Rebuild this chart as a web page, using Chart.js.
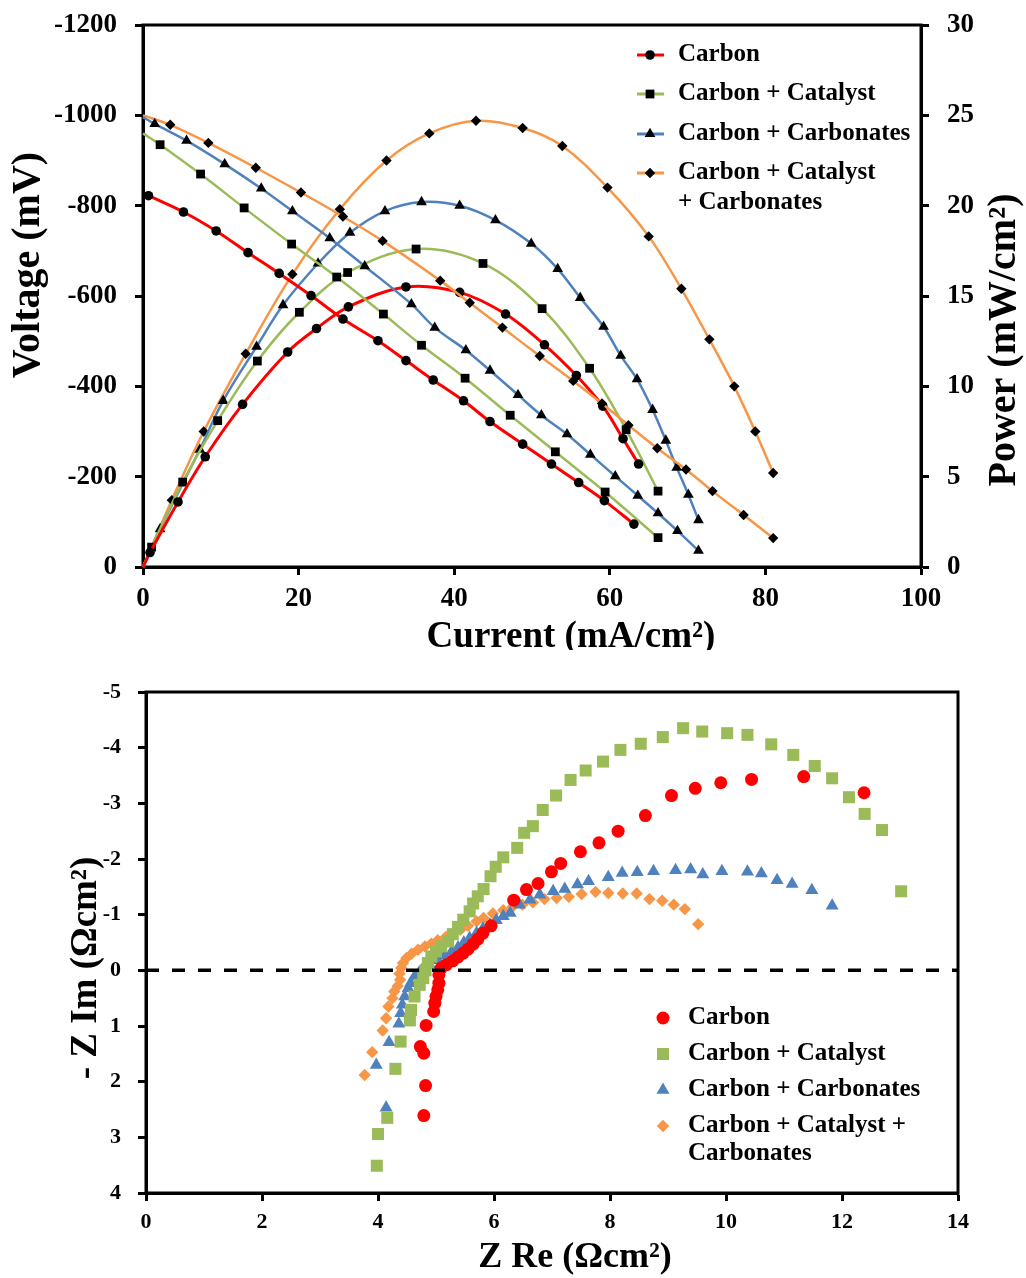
<!DOCTYPE html>
<html>
<head>
<meta charset="utf-8">
<script src="https://cdn.jsdelivr.net/npm/chart.js@4.4.1/dist/chart.umd.min.js"></script>
<style>
  body { margin: 0; background: #fff; }
  #wrap { position: relative; width: 1026px; height: 1278px; }
  canvas { position: absolute; left: 0; }
  #polChart { top: 0; }
  #eisChart { top: 660px; }
</style>
</head>
<body>
<div id="wrap">
  <canvas id="polChart" width="1026" height="650"></canvas>
  <canvas id="eisChart" width="1026" height="618"></canvas>
</div>
<script>
// --- polarization data: current (mA/cm2), voltage (mV), power (mW/cm2) ---
const carbonCurV = [0.7, 5.2, 9.4, 13.5, 17.5, 21.6, 25.7, 30.2, 33.8, 37.3, 41.2, 44.6, 48.8, 52.5, 56.0, 59.3, 63.1];
const carbonVolt = [-822, -786, -744, -696, -650, -601, -549, -501, -457, -414, -368, -322, -272, -228, -187, -147, -95];
const carbonCurP = [0, 0.9, 4.5, 8.0, 12.8, 18.6, 22.3, 26.4, 33.8, 40.7, 46.6, 51.6, 55.7, 59.1, 61.7, 63.7];
const carbonPow  = [0, 0.8, 3.6, 6.1, 9.0, 11.9, 13.2, 14.4, 15.5, 15.2, 14.0, 12.3, 10.6, 8.9, 7.1, 5.7];

const catCurV = [0, 2.2, 7.4, 13.0, 19.1, 24.9, 30.9, 35.8, 41.4, 47.2, 53.0, 59.4, 66.2];
const catVolt = [-960, -935, -870, -795, -715, -642, -560, -491, -418, -336, -255, -166, -65];
const catCurP = [0, 1.1, 5.1, 9.6, 14.7, 20.1, 26.3, 35.1, 43.7, 51.3, 57.4, 62.1, 66.2];
const catPow  = [0, 1.1, 4.7, 8.1, 11.4, 14.1, 16.3, 17.6, 16.8, 14.3, 11.0, 7.6, 4.2];

const carbCurV = [0, 1.5, 5.6, 10.5, 15.2, 19.2, 24.0, 28.5, 34.5, 37.5, 41.5, 44.6, 48.2, 51.2, 54.5, 57.5, 60.7, 63.6, 66.2, 68.7, 71.4];
const carbVolt = [-996, -981, -944, -892, -838, -788, -728, -666, -582, -530, -480, -435, -381, -336, -294, -249, -201, -158, -119, -80, -36];
const carbCurP = [0, 2.2, 7.3, 10.3, 14.6, 18.0, 22.5, 26.6, 31.1, 35.8, 40.7, 45.3, 49.9, 53.3, 56.2, 59.2, 61.4, 63.5, 65.5, 67.2, 68.6, 70.1, 71.4];
const carbPow  = [0, 2.1, 6.5, 9.2, 12.2, 14.5, 16.8, 18.5, 19.7, 20.2, 20.0, 19.2, 17.9, 16.5, 14.9, 13.3, 11.7, 10.4, 8.7, 7.0, 5.5, 4.0, 2.6];

const mixCurV = [0, 3.5, 8.4, 14.5, 20.3, 25.7, 30.8, 38.2, 42.0, 46.2, 51.0, 55.3, 59.0, 62.4, 66.1, 69.8, 73.2, 77.2, 81.0];
const mixVolt = [-1000, -979, -939, -884, -829, -776, -722, -634, -585, -530, -467, -412, -362, -314, -263, -216, -168, -115, -64];
const mixCurP = [0, 3.7, 7.8, 13.2, 19.2, 25.3, 31.3, 36.8, 42.8, 48.8, 53.9, 59.7, 65.0, 69.2, 72.8, 76.0, 78.7, 81.0];
const mixPow  = [0, 3.7, 7.5, 11.8, 16.2, 19.8, 22.5, 24.0, 24.7, 24.3, 23.3, 21.0, 18.3, 15.4, 12.6, 10.0, 7.5, 5.2];

// --- impedance data: Z Re, Z Im (ohm cm2) ---
const carbonZre = [4.79, 4.82, 4.79, 4.73, 4.83, 4.96, 4.98, 5.0, 5.03, 5.05, 5.05, 5.09, 5.18, 5.29, 5.38, 5.47, 5.55, 5.64, 5.72, 5.81, 5.95, 6.34, 6.56, 6.76, 6.99, 7.15, 7.49, 7.81, 8.14, 8.61, 9.06, 9.47, 9.91, 10.44, 11.34, 12.38];
const carbonZim = [2.61, 2.07, 1.49, 1.37, 0.99, 0.74, 0.59, 0.47, 0.35, 0.23, 0.08, -0.04, -0.1, -0.17, -0.24, -0.31, -0.38, -0.47, -0.56, -0.67, -0.8, -1.26, -1.45, -1.56, -1.77, -1.92, -2.13, -2.29, -2.5, -2.78, -3.14, -3.27, -3.37, -3.43, -3.48, -3.19];

const catZre = [3.98, 4.0, 4.16, 4.30, 4.39, 4.55, 4.57, 4.63, 4.72, 4.78, 4.82, 4.86, 4.92, 5.0, 5.09, 5.21, 5.29, 5.38, 5.47, 5.58, 5.64, 5.72, 5.82, 5.94, 6.03, 6.16, 6.40, 6.52, 6.67, 6.84, 7.07, 7.32, 7.58, 7.88, 8.18, 8.53, 8.91, 9.26, 9.59, 10.02, 10.37, 10.78, 11.16, 11.53, 11.83, 12.12, 12.39, 12.69, 13.02];
const catZim = [3.51, 2.94, 2.65, 1.77, 1.28, 0.9, 0.71, 0.47, 0.26, 0.14, 0.0, -0.13, -0.25, -0.34, -0.43, -0.52, -0.65, -0.78, -0.91, -1.06, -1.2, -1.33, -1.46, -1.69, -1.86, -2.03, -2.2, -2.47, -2.59, -2.88, -3.14, -3.42, -3.59, -3.75, -3.96, -4.07, -4.19, -4.35, -4.29, -4.26, -4.23, -4.06, -3.87, -3.67, -3.45, -3.11, -2.81, -2.52, -1.42];

const carbZre = [4.14, 3.97, 4.19, 4.36, 4.39, 4.42, 4.46, 4.52, 4.56, 4.63, 4.71, 4.78, 4.89, 5.03, 5.15, 5.27, 5.38, 5.48, 5.58, 5.7, 5.81, 5.93, 6.04, 6.16, 6.28, 6.44, 6.62, 6.79, 7.02, 7.22, 7.44, 7.63, 7.97, 8.21, 8.47, 8.75, 9.13, 9.39, 9.6, 9.93, 10.37, 10.61, 10.88, 11.14, 11.48, 11.83];
const carbZim = [2.47, 1.7, 1.29, 0.96, 0.77, 0.62, 0.47, 0.32, 0.23, 0.11, 0.04, -0.04, -0.1, -0.18, -0.26, -0.34, -0.41, -0.5, -0.58, -0.67, -0.75, -0.82, -0.9, -0.97, -1.03, -1.18, -1.27, -1.36, -1.42, -1.46, -1.54, -1.6, -1.67, -1.75, -1.76, -1.78, -1.8, -1.81, -1.72, -1.78, -1.77, -1.74, -1.62, -1.55, -1.44, -1.16];

const mixZre = [3.77, 3.9, 4.08, 4.14, 4.18, 4.25, 4.28, 4.34, 4.38, 4.37, 4.4, 4.43, 4.49, 4.58, 4.69, 4.81, 4.92, 5.03, 5.17, 5.29, 5.42, 5.55, 5.7, 5.82, 5.98, 6.16, 6.32, 6.49, 6.67, 6.87, 7.08, 7.29, 7.51, 7.75, 7.97, 8.22, 8.46, 8.68, 8.9, 9.1, 9.29, 9.52];
const mixZim = [1.88, 1.47, 1.08, 0.86, 0.65, 0.5, 0.38, 0.28, 0.17, 0.06, -0.04, -0.13, -0.22, -0.3, -0.37, -0.43, -0.48, -0.54, -0.6, -0.67, -0.73, -0.8, -0.88, -0.94, -1.02, -1.08, -1.14, -1.18, -1.22, -1.28, -1.3, -1.32, -1.37, -1.41, -1.39, -1.38, -1.38, -1.28, -1.25, -1.18, -1.1, -0.83];

const topNames = ['Carbon', 'Carbon + Catalyst', 'Carbon + Carbonates', 'Carbon + Catalyst\n+ Carbonates'];
const eisNames = ['Carbon', 'Carbon + Catalyst', 'Carbon + Carbonates', 'Carbon + Catalyst +\nCarbonates'];
const colors = ['#ff0000', '#9bbb59', '#4f81bd', '#f79646'];
const shapes = ['circle', 'rect', 'triangle', 'rectRot'];

const FONT = '"Liberation Serif", "Times New Roman", serif';
const pts = (xs, ys) => xs.map((x, i) => ({ x: x, y: ys[i] }));

function drawMarker(ctx, style, x, y, r, color) {
    ctx.fillStyle = color;
    ctx.beginPath();
    if (style === 'circle') {
        ctx.arc(x, y, r, 0, Math.PI * 2);
    } else if (style === 'rect') {
        const s = r * Math.SQRT1_2;
        ctx.rect(x - s, y - s, 2 * s, 2 * s);
    } else if (style === 'triangle') {
        ctx.moveTo(x, y - r);
        ctx.lineTo(x + r * 0.866, y + r * 0.5);
        ctx.lineTo(x - r * 0.866, y + r * 0.5);
    } else {
        ctx.moveTo(x, y - r);
        ctx.lineTo(x + r, y);
        ctx.lineTo(x, y + r);
        ctx.lineTo(x - r, y);
    }
    ctx.closePath();
    ctx.fill();
}

// frame round the plot, axis titles and legend drawn by hand
const decor = {
    id: 'decor',
    beforeDatasetsDraw(chart) {
        const a = chart.chartArea, ctx = chart.ctx;
        ctx.save();
        ctx.strokeStyle = '#000';
        ctx.lineWidth = 3;
        ctx.strokeRect(a.left, a.top, a.right - a.left, a.bottom - a.top);
        ctx.restore();
    },
    afterDraw(chart, args, opts) {
        const ctx = chart.ctx;
        ctx.save();
        ctx.fillStyle = '#000';
        ctx.textAlign = 'center';
        ctx.textBaseline = 'middle';
        (opts.titles || []).forEach(t => {
            ctx.save();
            ctx.translate(t.x, t.y);
            ctx.rotate(t.rot || 0);
            ctx.font = t.font;
            ctx.fillText(t.text, 0, 0);
            ctx.restore();
        });
        const lg = opts.legend;
        if (lg) {
            ctx.font = lg.font;
            ctx.textAlign = 'left';
            chart.data.datasets.filter(d => d.legendRow !== undefined).forEach(d => {
                const y = lg.rows[d.legendRow];
                if (lg.lineFrom !== undefined) {
                    ctx.strokeStyle = d.borderColor;
                    ctx.lineWidth = 3;
                    ctx.beginPath();
                    ctx.moveTo(lg.lineFrom, y);
                    ctx.lineTo(lg.lineTo, y);
                    ctx.stroke();
                }
                drawMarker(ctx, d.pointStyle, lg.markerX, y, d.legendRadius, d.pointBackgroundColor);
                ctx.fillStyle = '#000';
                d.label.split('\n').forEach((line, i) => {
                    ctx.fillText(line, lg.textX, y + i * lg.lineGap);
                });
            });
        }
        ctx.restore();
    }
};

// keep the axis boxes at fixed sizes so the plot areas sit where the picture has them
const fixWidth = w => s => { s.width = w; s.paddingTop = 0; s.paddingBottom = 0; };
const fixHeight = h => s => { s.height = h; };

// ---------- top: polarization and power curves ----------
const topRadius = [4.8, 6.2, 6.2, 5.2];
const voltSets = [[carbonCurV, carbonVolt], [catCurV, catVolt], [carbCurV, carbVolt], [mixCurV, mixVolt]];
const powSets = [[carbonCurP, carbonPow], [catCurP, catPow], [carbCurP, carbPow], [mixCurP, mixPow]];

function curveSet(pair, i, axis, legend) {
    const r = topRadius[i];
    return {
        label: topNames[i],
        data: pts(pair[0], pair[1]),
        yAxisID: axis,
        borderColor: colors[i],
        borderWidth: i === 0 ? 3 : 2.5,
        tension: 0.35,
        pointStyle: shapes[i],
        pointBackgroundColor: '#000',
        pointBorderWidth: 0,
        pointRadius: ctx => (ctx.raw && ctx.raw.x === 0 ? 0 : r),
        legendRow: legend ? i : undefined,
        legendRadius: r,
        clip: false
    };
}

const topDatasets = [];
voltSets.forEach((p, i) => topDatasets.push(curveSet(p, i, 'y', true)));
powSets.forEach((p, i) => topDatasets.push(curveSet(p, i, 'y2', false)));

const tickFont = { family: FONT, size: 27, weight: 'bold' };
const axisLine = { display: true, drawOnChartArea: false, tickLength: 8, tickWidth: 3, tickColor: '#000' };

new Chart(document.getElementById('polChart'), {
    type: 'line',
    data: { datasets: topDatasets },
    options: {
        responsive: false,
        animation: false,
        events: [],
        layout: { padding: { top: 25, left: 0, right: 0, bottom: 0 } },
        plugins: {
            legend: { display: false },
            tooltip: { enabled: false },
            decor: {
                titles: [
                    { text: 'Voltage (mV)', x: 29, y: 265, rot: -Math.PI / 2, font: `bold 40px ${FONT}` },
                    { text: 'Power (mW/cm\u00b2)', x: 1005, y: 340, rot: -Math.PI / 2, font: `bold 40px ${FONT}` },
                    { text: 'Current (mA/cm\u00b2)', x: 571, y: 637, font: `bold 37px ${FONT}` }
                ],
                legend: { font: `bold 25px ${FONT}`, rows: [55, 94, 134, 173], lineGap: 30, lineFrom: 637, lineTo: 664, markerX: 650, textX: 678 }
            }
        },
        scales: {
            x: {
                type: 'linear', min: 0, max: 100,
                ticks: { stepSize: 20, color: '#000', font: tickFont, padding: 8, callback: v => String(v) },
                grid: axisLine,
                border: { color: '#000', width: 3 },
                afterFit: fixHeight(83)
            },
            y: {
                type: 'linear', position: 'left', min: -1200, max: 0, reverse: true,
                ticks: { stepSize: 200, color: '#000', font: tickFont, padding: 18, callback: v => String(v) },
                grid: axisLine,
                border: { color: '#000', width: 3 },
                afterFit: fixWidth(143)
            },
            y2: {
                type: 'linear', position: 'right', min: 0, max: 30,
                ticks: { stepSize: 5, color: '#000', font: tickFont, padding: 18, callback: v => String(v) },
                grid: axisLine,
                border: { color: '#000', width: 3 },
                afterFit: fixWidth(105)
            }
        }
    },
    plugins: [decor]
});

// ---------- bottom: Nyquist plot ----------
const eisRadius = [6.5, 8.5, 7.5, 6.2];
const zSets = [[carbonZre, carbonZim], [catZre, catZim], [carbZre, carbZim], [mixZre, mixZim]];

const eisDatasets = zSets.map((p, i) => ({
    type: 'scatter',
    label: eisNames[i],
    data: pts(p[0], p[1]),
    pointStyle: shapes[i],
    pointRadius: eisRadius[i],
    pointBackgroundColor: colors[i],
    pointBorderWidth: 0,
    borderColor: colors[i],
    legendRow: i,
    legendRadius: eisRadius[i],
    clip: false
}));
// zero line
eisDatasets.unshift({
    type: 'line',
    data: pts([0, 14], [0, 0]),
    borderColor: '#000',
    borderWidth: 3.5,
    borderDash: [13, 13],
    pointRadius: 0
});

const eisTick = { family: FONT, size: 22, weight: 'bold' };

new Chart(document.getElementById('eisChart'), {
    type: 'scatter',
    data: { datasets: eisDatasets },
    options: {
        responsive: false,
        animation: false,
        events: [],
        layout: { padding: { top: 32, left: 0, right: 68, bottom: 0 } },
        plugins: {
            legend: { display: false },
            tooltip: { enabled: false },
            decor: {
                titles: [
                    { text: '- Z Im (\u03a9cm\u00b2)', x: 86, y: 308, rot: -Math.PI / 2, font: `bold 37px ${FONT}` },
                    { text: 'Z Re (\u03a9cm\u00b2)', x: 575, y: 598, font: `bold 36px ${FONT}` }
                ],
                legend: { font: `bold 25px ${FONT}`, rows: [358, 394, 430, 466], lineGap: 28, markerX: 663, textX: 688 }
            }
        },
        scales: {
            x: {
                type: 'linear', min: 0, max: 14,
                ticks: { stepSize: 2, color: '#000', font: eisTick, padding: 8, callback: v => String(v) },
                grid: axisLine,
                border: { color: '#000', width: 3 },
                afterFit: fixHeight(85)
            },
            y: {
                type: 'linear', min: -5, max: 4, reverse: true,
                ticks: { stepSize: 1, color: '#000', font: eisTick, padding: 17, callback: v => String(v) },
                grid: axisLine,
                border: { color: '#000', width: 3 },
                afterFit: fixWidth(146)
            }
        }
    },
    plugins: [decor]
});
</script>
</body>
</html>
